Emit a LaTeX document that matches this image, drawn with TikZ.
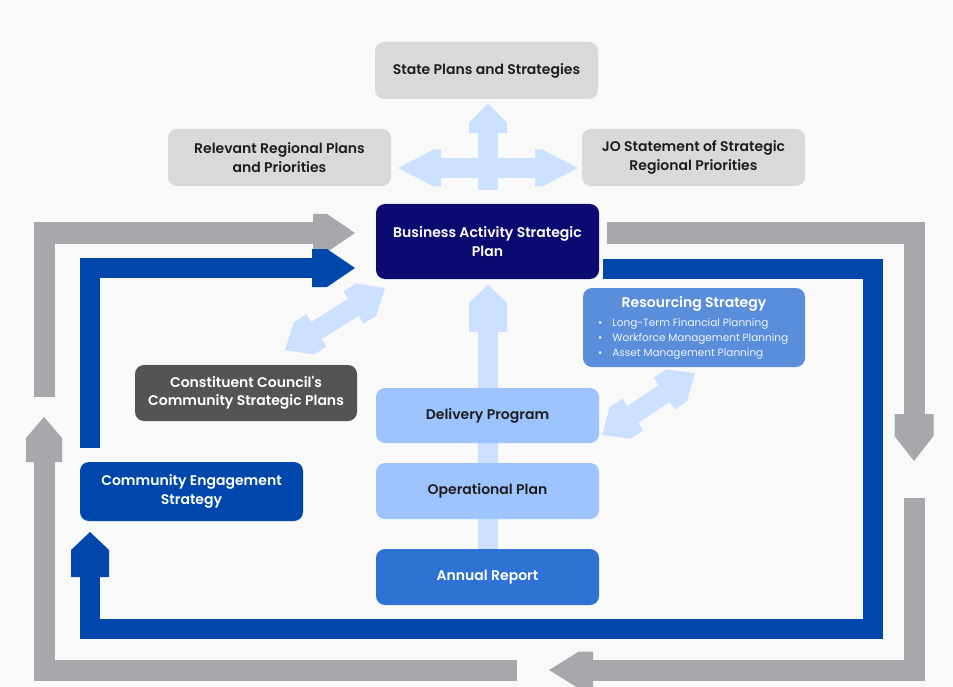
\documentclass[tikz,border=0pt]{standalone}
\usepackage{fontspec}
\setmainfont{Poppins}[BoldFont={Poppins SemiBold}, Ligatures=TeXOff]
\usetikzlibrary{calc}
\definecolor{bgc}{HTML}{F9F9FA}
\definecolor{lgray}{HTML}{D9D9D9}
\definecolor{navy}{HTML}{0B0A70}
\definecolor{resb}{HTML}{5A8EDA}
\definecolor{dgray}{HTML}{545454}
\definecolor{pale}{HTML}{9EC4FF}
\definecolor{annb}{HTML}{2E72D4}
\definecolor{royal}{HTML}{0047AB}
\definecolor{arrgray}{HTML}{A6A8AB}
\definecolor{arrlight}{HTML}{CCE0FF}
\definecolor{txtdark}{HTML}{1E1E1E}
\definecolor{bultxt}{HTML}{EEF3FC}
% head: #1 from, #2 tip, #3 slant length, #4 total length, #5 half width, #6 colour
\newcommand\ahead[6]{\fill[#6] (#2) -- ($(#2)!#3pt!(#1)!#5pt!90:(#1)$) -- ($(#2)!#4pt!(#1)!#5pt!90:(#1)$) -- ($(#2)!#4pt!(#1)!#5pt!-90:(#1)$) -- ($(#2)!#3pt!(#1)!#5pt!-90:(#1)$) -- cycle;}
\newcommand\bul[1]{\makebox[192pt][l]{\mdseries\fontsize{10.5}{15}\selectfont\textcolor{bultxt}{\textbullet\hspace{10pt}#1}}}
\tikzset{
  box/.style={rounded corners=9pt, minimum width=223pt, align=center, inner sep=0pt,
    font=\bfseries\fontsize{14}{18.5}\selectfont},
  graysh/.style={draw=arrgray, line width=21pt, line cap=butt, line join=miter},
  bluesh/.style={draw=royal, line width=20pt, line cap=butt, line join=miter},
  lightsh/.style={draw=arrlight, line width=20pt, line cap=butt},
}
\begin{document}
\begin{tikzpicture}[x=1pt,y=-1pt]
\useasboundingbox (0,0) rectangle (953,687);
\fill[bgc] (0,0) rectangle (953,687);

% ---------- loop coordinates ----------
\coordinate (g1a) at (44,397); \coordinate (g1b) at (44,233); \coordinate (g1t) at (355,233);
\coordinate (g2a) at (607,233); \coordinate (g2b) at (914,233); \coordinate (g2t) at (914,461);
\coordinate (g3a) at (914,498); \coordinate (g3b) at (914,670); \coordinate (g3t) at (549,670);
\coordinate (g4a) at (517,670); \coordinate (g4b) at (44,670); \coordinate (g4t) at (44,417);
\coordinate (b1a) at (90,448); \coordinate (b1b) at (90,268); \coordinate (b1t) at (355,268);
\coordinate (b2a) at (603,269); \coordinate (b2b) at (873,269); \coordinate (b2c) at (873,628.5);
\coordinate (b2d) at (90,628.5); \coordinate (b2t) at (90,532);

% gray loop
\draw[graysh] (g1a) -- (g1b) -- ($(g1t)!41pt!(g1b)$);
\ahead{g1b}{g1t}{28}{42}{19}{arrgray}
\draw[graysh] (g2a) -- (g2b) -- ($(g2t)!46pt!(g2b)$);
\ahead{g2b}{g2t}{25}{47}{19.5}{arrgray}
\draw[graysh] (g3a) -- (g3b) -- ($(g3t)!43pt!(g3b)$);
\ahead{g3b}{g3t}{30}{44}{18.5}{arrgray}
\draw[graysh] (g4a) -- (g4b) -- ($(g4t)!44pt!(g4b)$);
\ahead{g4b}{g4t}{21}{45}{18}{arrgray}

% blue loop
\draw[bluesh] (b1a) -- (b1b) -- ($(b1t)!42pt!(b1b)$);
\ahead{b1b}{b1t}{28}{43}{19}{royal}
\draw[bluesh] (b2a) -- (b2b) -- (b2c) -- (b2d) -- ($(b2t)!44pt!(b2d)$);
\ahead{b2d}{b2t}{18}{45}{19}{royal}

% ---------- light arrows ----------
\coordinate (vu0) at (488,190); \coordinate (vut) at (488,103);
\draw[lightsh] (vu0) -- ($(vut)!29pt!(vu0)$);
\ahead{vu0}{vut}{20}{30}{19}{arrlight}
\coordinate (hl) at (398,168); \coordinate (hr) at (578,168);
\draw[lightsh] ($(hl)!42pt!(hr)$) -- ($(hr)!42pt!(hl)$);
\ahead{hr}{hl}{36}{43}{18.5}{arrlight}
\ahead{hl}{hr}{36}{43}{18.5}{arrlight}
\coordinate (cv0) at (488,549); \coordinate (cvt) at (488,285);
\draw[lightsh] (cv0) -- ($(cvt)!46pt!(cv0)$);
\ahead{cv0}{cvt}{18}{47}{19}{arrlight}
\coordinate (dl1) at (285,350); \coordinate (dl2) at (385,288);
\draw[lightsh] ($(dl1)!36pt!(dl2)$) -- ($(dl2)!36pt!(dl1)$);
\ahead{dl2}{dl1}{22}{37}{19}{arrlight}
\ahead{dl1}{dl2}{22}{37}{19}{arrlight}
\coordinate (dr1) at (602,435); \coordinate (dr2) at (695,373);
\draw[lightsh] ($(dr1)!36pt!(dr2)$) -- ($(dr2)!36pt!(dr1)$);
\ahead{dr2}{dr1}{22}{37}{19}{arrlight}
\ahead{dr1}{dr2}{22}{37}{19}{arrlight}

% ---------- nodes ----------
\node[box, fill=lgray, text=txtdark, minimum height=57pt] (state) at (486.5,70.5) {State Plans and Strategies};
\node[box, fill=lgray, text=txtdark, minimum height=57pt] (regional) at (279.5,157.5) {Relevant Regional Plans\\and Priorities};
\node[box, fill=lgray, text=txtdark, minimum height=57pt] (jo) at (693.5,157.5) {JO Statement of Strategic\\Regional Priorities};
\node[box, fill=navy, text=white, minimum height=75pt] (basp) at (487.5,241.5) {Business Activity Strategic\\Plan};
\node[box, fill=resb, text=white, minimum width=222pt, minimum height=79pt, align=left,
      font=\bfseries\fontsize{14}{15}\selectfont] (res) at (694,327.5)
 {\makebox[192pt]{Resourcing Strategy}\\[4pt]
  \bul{Long-Term Financial Planning}\\
  \bul{Workforce Management Planning}\\
  \bul{Asset Management Planning}};
\node[box, fill=dgray, text=white, minimum width=222pt, minimum height=56pt] (ccsp) at (246,393) {Constituent Council's\\Community Strategic Plans};
\node[box, fill=pale, text=txtdark, minimum height=55pt] (dp) at (487.5,415.5) {Delivery Program};
\node[box, fill=pale, text=txtdark, minimum height=56pt] (op) at (487.5,491) {Operational Plan};
\node[box, fill=annb, text=white, minimum height=56pt] (ar) at (487.5,577) {Annual Report};
\node[box, fill=royal, text=white, minimum height=59pt] (ces) at (191.5,491.5) {Community Engagement\\Strategy};
\end{tikzpicture}
\end{document}
